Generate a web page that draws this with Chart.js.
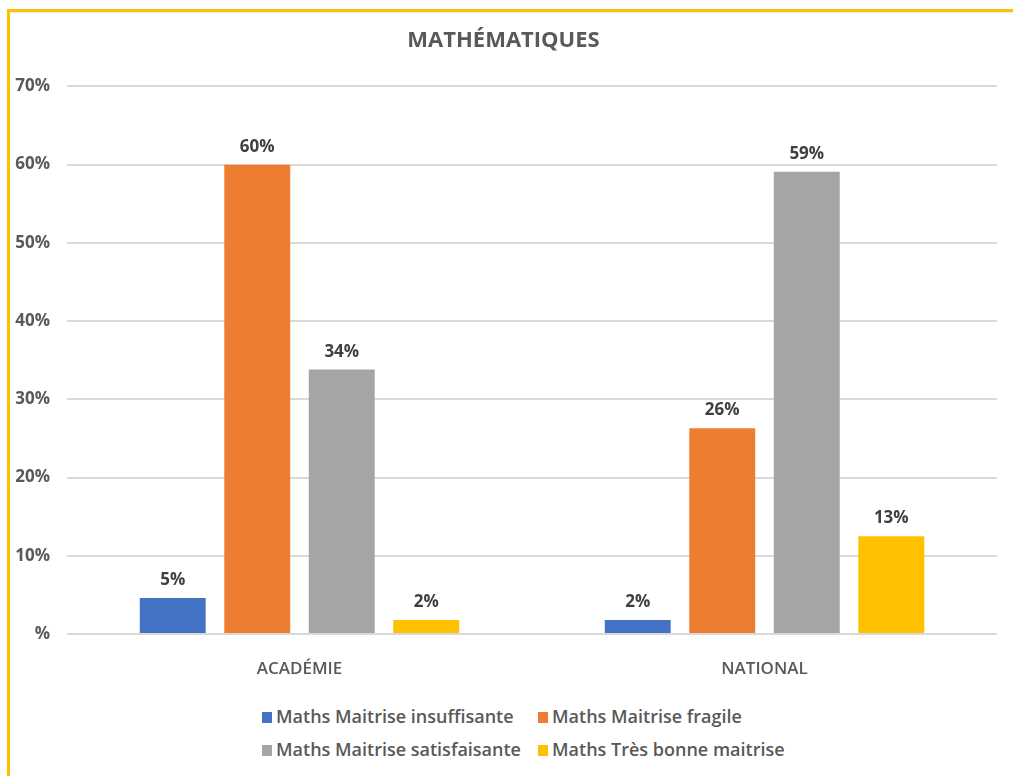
<!DOCTYPE html>
<html lang="fr">
<head>
<meta charset="utf-8">
<title>Mathématiques</title>
<script src="https://cdn.jsdelivr.net/npm/chart.js@4/dist/chart.umd.min.js"></script>
<style>
  body { margin: 0; background: #fff; font-family: "Open Sans", sans-serif; }
  #frame {
    position: absolute; left: 7px; top: 9px; width: 1010px; height: 770px;
    border-top: 3px solid #FFC000; border-left: 3px solid #FFC000; box-sizing: border-box;
    box-shadow: inset 0 1px 1px rgba(0,0,0,0.08);
  }
  #wrap { position: absolute; left: 0; top: 0; width: 1013px; height: 690px; }
  #legend {
    position: absolute; left: 262px; top: 703px;
    display: grid; grid-template-columns: 276px auto; row-gap: 7px;
    font-weight: 600; font-size: 18px; color: #595959;
  }
  #legend div { height: 26px; line-height: 26px; white-space: nowrap; }
  #legend span { display: inline-block; width: 10px; height: 11px; margin-right: 4px; vertical-align: 0px; }
</style>
</head>
<body>
<div id="frame"></div>
<div id="wrap"><canvas id="maths-chart"></canvas></div>
<div id="legend"></div>

<script>
const categories = ['ACADÉMIE', 'NATIONAL'];
const seriesNames = [
  'Maths Maitrise insuffisante',
  'Maths Maitrise fragile',
  'Maths Maitrise satisfaisante',
  'Maths Très bonne maitrise',
];
const insuffisante = [4.6, 1.8];
const fragile = [60.0, 26.3];
const satisfaisante = [33.8, 59.1];
const tresBonne = [1.8, 12.5];
const yTicks = [0, 10, 20, 30, 40, 50, 60, 70];

const colors = ['#4472C4', '#ED7D31', '#A5A5A5', '#FFC000'];
const values = [insuffisante, fragile, satisfaisante, tresBonne];

// little plugin to write the % above each bar
const valueLabels = {
  id: 'valueLabels',
  afterDatasetsDraw(chart) {
    const ctx = chart.ctx;
    ctx.save();
    ctx.font = 'bold 17px "Open Sans"';
    ctx.fillStyle = '#404040';
    ctx.textAlign = 'center';
    ctx.textBaseline = 'alphabetic';
    chart.data.datasets.forEach((ds, i) => {
      chart.getDatasetMeta(i).data.forEach((bar, j) => {
        ctx.fillText(Math.round(ds.data[j]) + '%', bar.x, bar.y - 13);
      });
    });
    ctx.restore();
  }
};

new Chart(document.getElementById('maths-chart'), {
  type: 'bar',
  data: {
    labels: categories,
    datasets: seriesNames.map((name, i) => ({
      label: name,
      data: values[i],
      backgroundColor: colors[i],
      categoryPercentage: 0.727,
      barPercentage: 0.78,
    })),
  },
  options: {
    responsive: true,
    maintainAspectRatio: false,
    animation: false,
    layout: { padding: { left: 10, right: 16, top: 0, bottom: 0 } },
    plugins: {
      legend: { display: false },
      tooltip: { enabled: false },
      title: {
        display: true,
        text: 'MATHÉMATIQUES',
        color: '#595959',
        font: { family: 'Open Sans', size: 22, weight: 'bold' },
        padding: { top: 28, bottom: 32 },
      },
    },
    scales: {
      x: {
        grid: { display: false },
        border: { display: false },
        ticks: {
          color: '#595959',
          font: { family: 'Open Sans', size: 17, weight: '600' },
          padding: 17,
        },
        afterFit(scale) { scale.height = 56; },
      },
      y: {
        min: 0,
        max: 70,
        grid: { color: '#d9d9d9', lineWidth: 2, drawTicks: false },
        border: { display: false },
        afterBuildTicks(scale) { scale.ticks = yTicks.map(v => ({ value: v })); },
        afterFit(scale) { scale.width = 57; },
        ticks: {
          color: '#595959',
          font: { family: 'Open Sans', size: 17, weight: 'bold' },
          padding: 17,
          callback: v => (v === 0 ? '%' : v + '%'),
        },
      },
    },
  },
  plugins: [valueLabels],
});

// legend as two aligned columns, same as the original
const legend = document.getElementById('legend');
seriesNames.forEach((name, i) => {
  const item = document.createElement('div');
  item.innerHTML = `<span style="background:${colors[i]}"></span>${name}`;
  legend.appendChild(item);
});
</script>
</body>
</html>
